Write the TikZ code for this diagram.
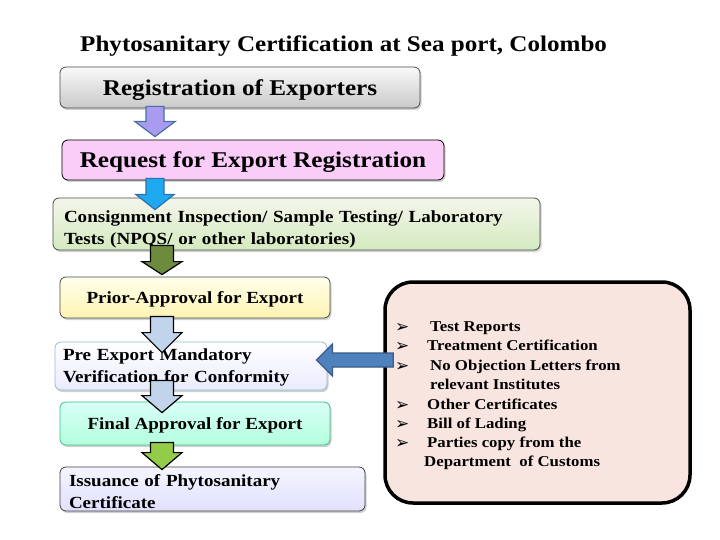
\documentclass[tikz,border=0pt]{standalone}
\usepackage{fontspec}
\setmainfont{Liberation Serif}[FakeStretch=1.12]
\newfontfamily\symfont{DejaVu Sans}
\usetikzlibrary{shadows,calc}
\definecolor{pinkbox}{HTML}{F9CDF7}
\definecolor{rbox}{HTML}{F9E5E0}
\definecolor{arrPurple}{HTML}{A99BF0}
\definecolor{arrPurpleB}{HTML}{4A6FA5}
\definecolor{arrBlue}{HTML}{1EA8F0}
\definecolor{arrBlueB}{HTML}{3070B0}
\definecolor{arrOlive}{HTML}{6E8B3D}
\definecolor{arrLight}{HTML}{C2D4EC}
\definecolor{arrGreen}{HTML}{92CC48}
\definecolor{steel}{HTML}{4F81BD}
\definecolor{steelB}{HTML}{385D8A}
\newcommand\blockarrow[7]{%
  \draw[line width=1.2pt, fill=#6, draw=#7, line join=miter]
    let \p1=(#1), \p2=(#2) in
    (\x1-#3,\y1) -- (\x1+#3,\y1) -- (\x1+#3,\y2+#5) -- (\x1+#4,\y2+#5)
    -- (\x2,\y2) -- (\x1-#4,\y2+#5) -- (\x1-#3,\y2+#5) -- cycle;}
\tikzset{
  box/.style={draw, rounded corners=6pt, line width=0.8pt, inner xsep=0pt, inner ysep=0pt,
    drop shadow={shadow xshift=1.5pt, shadow yshift=-2pt, opacity=0.3, fill=black!60}},
  onebox/.style={box, text depth=0pt},
  bigtxt/.style={font=\bfseries\fontsize{22.5}{24}\selectfont},
  midtxt/.style={font=\bfseries\fontsize{17}{22}\selectfont},
  listtxt/.style={anchor=base west, inner sep=0pt, font=\bfseries\fontsize{15}{16}\selectfont},
  bul/.style={anchor=base west, inner sep=0pt, font=\symfont\fontsize{17}{17}\selectfont},
}
\begin{document}
\begin{tikzpicture}[x=1pt,y=-1pt]
\useasboundingbox (0,0) rectangle (720,540);
\fill[white] (0,0) rectangle (720,540);

\node[anchor=base west, inner sep=0pt, font=\bfseries\fontsize{22.4}{26}\selectfont] (title) at (80,52)
  {Phytosanitary Certification at Sea port, Colombo};

\node[onebox, bigtxt, top color=gray!5, bottom color=gray!42, draw=gray!60!black,
  minimum width=360pt, minimum height=41pt] (b1) at (240,87.5) {Registration of Exporters};
\node[onebox, bigtxt, fill=pinkbox, draw=black,
  minimum width=382pt, minimum height=40pt] (b2) at (253,160) {Request for Export Registration};
\node[box, midtxt, top color=green!10!olive!8!white, bottom color=green!35!olive!25!white, draw=gray!60!black,
  inner xsep=11pt, text width=465pt, align=left, minimum height=52pt,
  text height=20pt, text depth=23pt] (b3) at (296.5,224)
  {Consignment Inspection/ Sample Testing/ Laboratory\\Tests (NPQS/ or other laboratories)};
\node[onebox, midtxt, top color=yellow!8, bottom color=orange!30!yellow!30, draw=gray!60!black,
  minimum width=270pt, minimum height=41pt] (b4) at (195,297.5) {Prior-Approval for Export};
\node[box, midtxt, top color=white, bottom color=blue!8, draw=cyan!45!gray!70,
  inner xsep=8pt, text width=256pt, align=left, minimum height=48pt,
  text height=15pt, text depth=26pt] (b5) at (191,366)
  {Pre Export Mandatory\\Verification for Conformity};
\node[onebox, midtxt, top color=green!20!cyan!15, bottom color=green!45!cyan!30, draw=green!40!cyan!50!gray,
  minimum width=270pt, minimum height=43pt] (b6) at (195,423.5) {Final Approval for Export};
\node[box, midtxt, top color=blue!4, bottom color=blue!12, draw=gray!50!black,
  inner xsep=9pt, text width=287pt, align=left, minimum height=44pt,
  text height=18pt, text depth=23pt] (b7) at (212.5,489)
  {Issuance of Phytosanitary\\Certificate};

\node[draw=black, line width=3.5pt, fill=rbox, rounded corners=28pt,
  minimum width=305pt, minimum height=221pt] (R) at (537.5,392.5) {};

% list
\node[bul] (u1) at (395,332) {➢};
\node[listtxt] (t1) at (430,331) {Test Reports};
\node[bul] (u2) at (395,351) {➢};
\node[listtxt] (t2) at (427,350) {Treatment Certification};
\node[bul] (u3) at (395,371) {➢};
\node[listtxt] (t3) at (430,370) {No Objection Letters from};
\node[listtxt] (t3b) at (430,389) {relevant Institutes};
\node[bul] (u4) at (395,410) {➢};
\node[listtxt] (t4) at (427,409) {Other Certificates};
\node[bul] (u5) at (395,429) {➢};
\node[listtxt] (t5) at (427,428) {Bill of Lading};
\node[bul] (u6) at (395,448) {➢};
\node[listtxt] (t6) at (427,447) {Parties copy from the};
\node[listtxt] (t6b) at (424,466) {Department\ \ of Customs};

% arrow positions
\coordinate (xa) at (155,0);
\coordinate (xb) at (162,0);
\coordinate (ly) at (0,360);
\coordinate (a1s) at ($(b1.south -| xa)+(0,-2)$);
\coordinate (a1e) at ($(b2.north -| xa)+(0,-3)$);
\coordinate (a2s) at ($(b2.south -| xa)+(0,-2)$);
\coordinate (a2e) at ($(b3.north -| xa)+(0,12)$);
\coordinate (a3s) at ($(b3.south -| xb)+(0,-5)$);
\coordinate (a3e) at ($(b4.north -| xb)+(0,-2)$);
\coordinate (a4s) at ($(b4.south -| xb)+(0,-2)$);
\coordinate (a4e) at ($(b5.north -| xb)+(0,11)$);
\coordinate (a5s) at ($(b5.south -| xb)+(0,-10)$);
\coordinate (a5e) at ($(b6.north -| xb)+(0,11)$);
\coordinate (a6s) at ($(b6.south -| xb)+(0,-3)$);
\coordinate (a6e) at ($(b7.north -| xb)+(0,3)$);

\blockarrow{a1s}{a1e}{9pt}{20pt}{15pt}{arrPurple}{arrPurpleB}
\blockarrow{a2s}{a2e}{9pt}{19pt}{15pt}{arrBlue}{arrBlueB}
\blockarrow{a3s}{a3e}{11.5pt}{20pt}{13pt}{arrOlive}{black}
\blockarrow{a4s}{a4e}{11.5pt}{20pt}{20pt}{arrLight}{black}
\blockarrow{a5s}{a5e}{11.5pt}{20pt}{17pt}{arrLight}{black}
\blockarrow{a6s}{a6e}{11.5pt}{20pt}{17pt}{arrGreen}{black}

% left arrow
\coordinate (ls) at ($(R.west |- ly)+(10,0)$);
\coordinate (le) at ($(b5.east |- ly)+(-11,0)$);
\draw[line width=1.2pt, fill=steel, draw=steelB, line join=miter]
  let \p1=(ls), \p2=(le) in
  (\x1,\y1-7pt) -- (\x1,\y1+7pt) -- (\x2+16pt,\y1+7pt) -- (\x2+16pt,\y1+16pt)
  -- (\x2,\y2) -- (\x2+16pt,\y1-16pt) -- (\x2+16pt,\y1-7pt) -- cycle;
\end{tikzpicture}
\end{document}
